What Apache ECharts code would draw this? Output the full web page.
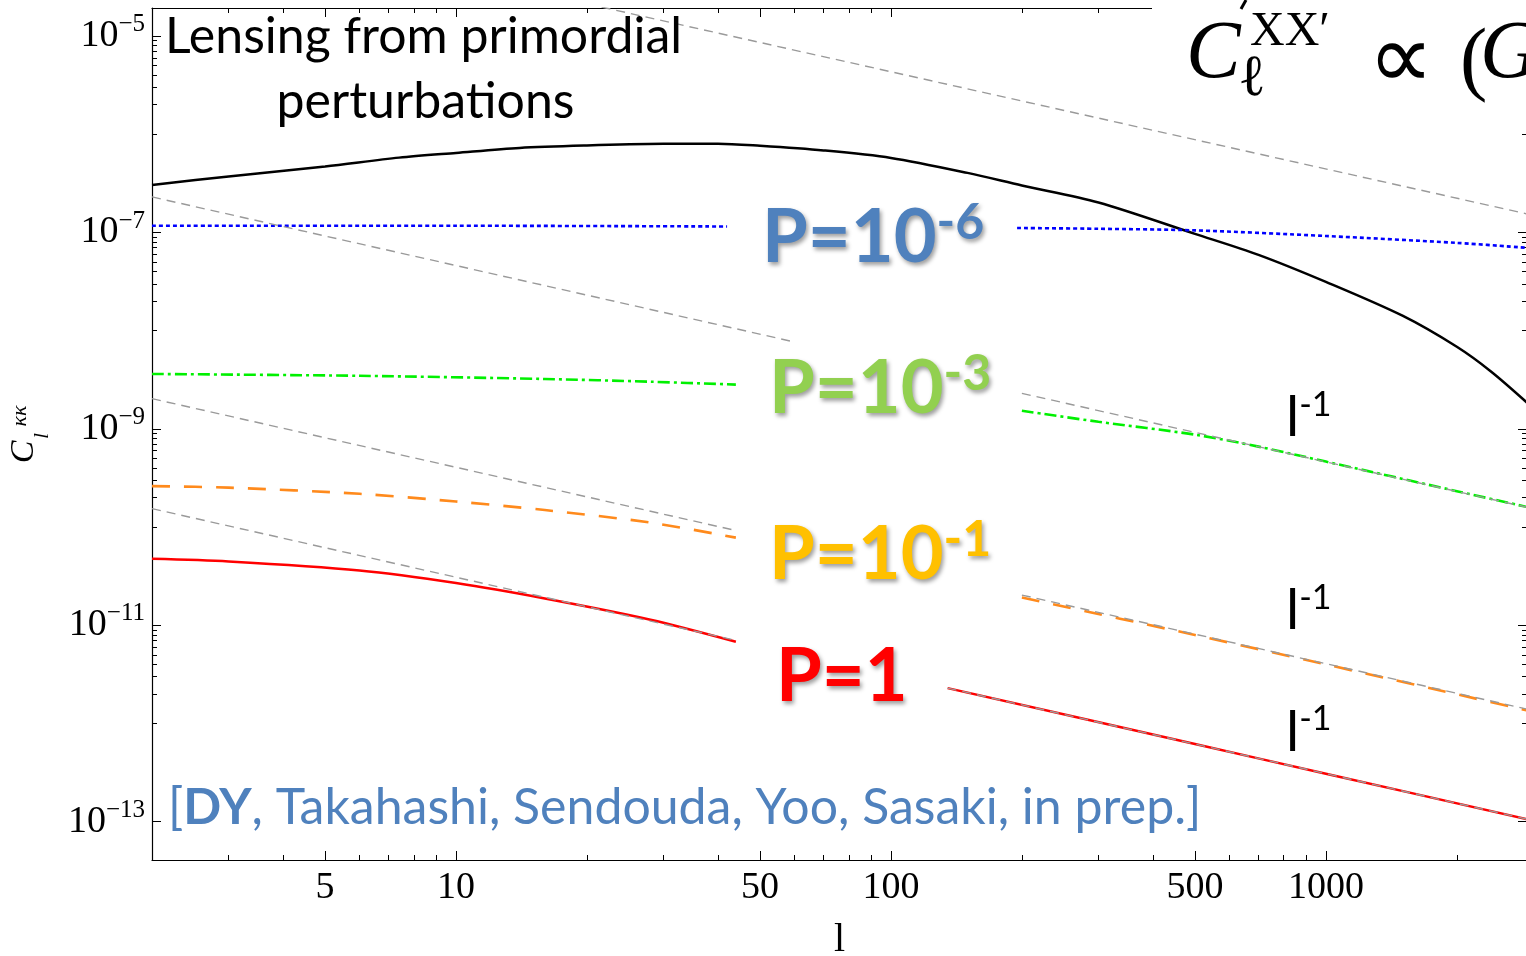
<!DOCTYPE html>
<html><head><meta charset="utf-8">
<script src="https://cdn.jsdelivr.net/npm/echarts@6/dist/echarts.min.js"></script>
<style>html,body{margin:0;padding:0;background:#fff}#c{width:1526px;height:956px}</style>
</head><body><div id="c"></div>
<script>
// ---------------- data (multipole l, C_l^kk) ----------------
const X_MIN = 2, X_MAX = 2900;
const Y_MIN = 4.07e-14, Y_MAX = 1.93e-5;

const xTickLabels = [5, 10, 50, 100, 500, 1000];
const xMinorTicks = [3,4,6,7,8,9,20,30,40,60,70,80,90,200,300,400,600,700,800,900,2000];
const yTickLabels = [1e-5, 1e-7, 1e-9, 1e-11, 1e-13];
const yMinorMult = [0.9,0.8,0.7,0.6,0.5,0.4,0.3,0.2,0.1];
const yMinorDecades = [1e-5, 1e-7, 1e-9, 1e-11];

// primordial lensing (black)
const blackL = [2,3,5,7.4,10,14,20,30,40,50,70,100,150,200,300,500,700,1000,1500,2000,2400,2900];
const blackC = [3.05e-7,3.72e-7,4.70e-7,5.78e-7,6.46e-7,7.26e-7,7.69e-7,7.99e-7,8.02e-7,7.63e-7,6.84e-7,5.74e-7,4.04e-7,3.01e-7,2.02e-7,9.68e-8,5.92e-8,3.14e-8,1.42e-8,6.85e-9,3.82e-9,1.85e-9];
// P = 1e-6 (blue dotted); null = break behind label
const blueL = [2,10,42,null,195,300,500,1000,2000,2900];
const blueC = [1.17e-7,1.17e-7,1.15e-7,null,1.11e-7,1.09e-7,1.05e-7,9.2e-8,7.83e-8,6.97e-8];
// P = 1e-3 (green dash-dot)
const greenL = [2,6,16,28,44,null,200,300,500,700,1000,2000,2900];
const greenC = [3.62e-9,3.47e-9,3.22e-9,3.02e-9,2.82e-9,null,1.53e-9,1.18e-9,8.73e-10,6.59e-10,4.64e-10,2.32e-10,1.60e-10];
// P = 1e-1 (orange dashed)
const orangeL = [2,3,6,10,16,28,44,null,200,500,1000,2900];
const orangeC = [2.61e-10,2.52e-10,2.18e-10,1.82e-10,1.49e-10,1.11e-10,7.8e-11,null,1.92e-11,7.96e-12,3.99e-12,1.36e-12];
// P = 1 (red)
const redL = [2,3,6,10,16,28,44,null,135,500,1000,2900];
const redC = [4.75e-11,4.46e-11,3.61e-11,2.69e-11,1.875e-11,1.14e-11,6.8e-12,null,2.29e-12,6.17e-13,3.08e-13,1.06e-13];
// l^-1 guide lines (gray dashed)
const g1L = [20,2900],             g1C = [2.13e-5,1.545e-7];
const g2L = [2,60,null,200,2900],  g2C = [2.30e-7,7.67e-9,null,2.30e-9,1.59e-10];
const g3L = [2,44,null,200,2900],  g3C = [2.03e-9,9.22e-11,null,2.03e-11,1.40e-12];
const g4L = [2,44,null,135,2900],  g4C = [1.54e-10,7.01e-12,null,2.29e-12,1.06e-13];

// ---------------- chart ----------------
const LX = v => Math.log10(v);
function pts(L, C){ return L.map((l,i) => l === null ? ['-','-'] : [LX(l), LX(C[i])]); }
function line(L, C, color, width, type, smooth, z){
  return {type:'line', data:pts(L,C), xAxisIndex:0, yAxisIndex:0, symbol:'none', showSymbol:false,
    smooth:smooth, connectNulls:false, silent:true, animation:false, z:z,
    lineStyle:{color:color, width:width, type:type}};
}
const serif = 'Liberation Serif, Times New Roman, serif';
const xMaj = xTickLabels.map(LX), xMin = xMinorTicks.map(LX);
const yMaj = yTickLabels.map(LX);
const yMin = [];
yMinorDecades.forEach(d => yMinorMult.forEach(k => yMin.push(LX(d*k))));

function xAx(pos, ticks, len, showLine, showLabel){
  return {type:'value', position:pos, min:LX(X_MIN), max:LX(X_MAX), gridIndex:0,
    axisLine:{show:showLine, onZero:false, lineStyle:{color:'#000', width:1.2}},
    axisTick:{show:true, inside:true, length:len, customValues:ticks, lineStyle:{color:'#000', width:1}},
    axisLabel: showLabel ? {show:true, customValues:ticks, margin:8, color:'#000', fontFamily:serif, fontSize:38, lineHeight:40,
      formatter: v => String(Math.round(Math.pow(10, v)))} : {show:false},
    splitLine:{show:false}, minorTick:{show:false}, minorSplitLine:{show:false},
    name: (pos==='bottom' && showLabel) ? 'l' : '', nameLocation:'middle', nameGap:60,
    nameTextStyle:{fontFamily:serif, fontSize:40, lineHeight:40, color:'#000'}};
}
function yAx(pos, ticks, len, showLine, showLabel){
  return {type:'value', position:pos, min:LX(Y_MIN), max:LX(Y_MAX), gridIndex:0,
    axisLine:{show:showLine, onZero:false, lineStyle:{color:'#000', width:1.2}},
    axisTick:{show:true, inside:true, length:len, customValues:ticks, lineStyle:{color:'#000', width:1}},
    axisLabel: showLabel ? {show:true, customValues:ticks, margin:7, color:'#000',
      formatter: v => '{b|10}{s|\u2212' + Math.round(-v) + '}',
      rich:{b:{fontFamily:serif, fontSize:38, lineHeight:48, color:'#000'},
            s:{fontFamily:serif, fontSize:25, lineHeight:24, verticalAlign:'top', color:'#000'}}} : {show:false},
    splitLine:{show:false}, minorTick:{show:false}, minorSplitLine:{show:false}};
}

const lato = 'Lato, Open Sans, sans-serif';
const shadow = {textShadowColor:'rgba(0,0,0,0.38)', textShadowBlur:4, textShadowOffsetX:2, textShadowOffsetY:3};
function pLabel(x, y, rich, color){
  return {type:'text', x:x, y:y, z:100, silent:true, style:Object.assign({text:rich, fill:color, align:'left', verticalAlign:'middle',
    rich:{b:{fontFamily:lato, fontWeight:'bold', fontSize:74, lineHeight:82},
          s:{fontFamily:lato, fontWeight:'bold', fontSize:50, lineHeight:50, verticalAlign:'top'}}}, shadow)};
}
function lInv(y){
  return {type:'text', x:1286, y:y, z:100, silent:true, style:{text:'{l|l}{s|-1}', fill:'#000', align:'left', verticalAlign:'middle',
    rich:{l:{fontFamily:lato, fontSize:56, lineHeight:60}, s:{fontFamily:lato, fontSize:34, lineHeight:40, verticalAlign:'top'}}}};
}
function ftxt(x, y, t, size, italic, fam){
  return {type:'text', x:x, y:y, z:101, silent:true, style:{text:t, fill:'#000', align:'left', verticalAlign:'middle',
    fontFamily: fam || serif, fontSize:size, fontStyle: italic ? 'italic' : 'normal'}};
}

const chart = echarts.init(document.getElementById('c'), null, {renderer:'canvas', width:1526, height:956});
chart.setOption({
  animation:false,
  backgroundColor:'#fff',
  grid:{left:152, top:8, width:1375, height:852, containLabel:false, outerBoundsMode:'none'},
  xAxis:[ xAx('bottom', xMaj, 9, true, true), xAx('bottom', xMin, 5, false, false),
          xAx('top', xMaj, 9, true, false), xAx('top', xMin, 5, false, false) ],
  yAxis:[ yAx('left', yMaj, 9, true, true), yAx('left', yMin, 5, false, false),
          yAx('right', yMaj, 9, true, false), yAx('right', yMin, 5, false, false) ],
  series:[
    line(blackL, blackC, '#000000', 2.5, 'solid', 0.3, 3),
    line(blueL, blueC, '#0000FF', 2.6, [4,3], 0.3, 3),
    line(greenL, greenC, '#00F000', 2.6, [12,4,3,4], 0.3, 3),
    line(orangeL, orangeC, '#FF8A1C', 2.6, [18,14], 0.3, 3),
    line(redL, redC, '#FF0000', 2.5, 'solid', 0.3, 3),
    line(g1L, g1C, '#9a9a9a', 1.4, [9,6], false, 4),
    line(g2L, g2C, '#9a9a9a', 1.4, [9,6], false, 4),
    line(g3L, g3C, '#9a9a9a', 1.4, [9,6], false, 4),
    line(g4L, g4C, '#9a9a9a', 1.4, [9,6], false, 4)
  ],
  graphic:{elements:[
    {type:'text', x:165, y:36.5, z:100, silent:true, style:{text:'Lensing from primordial', fill:'#000', fontFamily:lato, fontSize:50, align:'left', verticalAlign:'middle'}},
    {type:'text', x:425.5, y:101.5, z:100, silent:true, style:{text:'perturbations', fill:'#000', fontFamily:lato, fontSize:50, align:'center', verticalAlign:'middle'}},
    pLabel(762, 238.5, '{b|P=10}{s|-6}', '#4F81BD'),
    pLabel(769, 389.5, '{b|P=10}{s|-3}', '#92D050'),
    pLabel(769, 555.5, '{b|P=10}{s|-1}', '#FFC000'),
    pLabel(776, 677.5, '{b|P=1}', '#FF0000'),
    lInv(418), lInv(611), lInv(732.5),
    {type:'text', x:168, y:808, z:100, silent:true, style:{text:'{n|[}{b|DY}{n|, Takahashi, Sendouda, Yoo, Sasaki, in prep.]}', fill:'#4F81BD', align:'left', verticalAlign:'middle',
      rich:{n:{fontFamily:lato, fontSize:50, fill:'#4F81BD'}, b:{fontFamily:lato, fontSize:50, fontWeight:'bold', fill:'#4F81BD'}}}},
    // formula box at top right
    {type:'rect', z:90, silent:true, shape:{x:1152, y:0, width:380, height:110}, style:{fill:'#fff'}},
    {type:'line', z:101, silent:true, shape:{x1:1246, y1:0, x2:1241, y2:9}, style:{stroke:'#000', lineWidth:3}},
    ftxt(1186, 55.5, 'C', 82, true),
    ftxt(1250, 32.5, 'XX\u2032', 48, false),
    ftxt(1238, 80, '\u2113', 58, false, 'DejaVu Serif, serif'),
    ftxt(1368, 64, '\u221D', 92, false, 'DejaVu Sans, DejaVu Serif, serif'),
    ftxt(1460, 63, '(', 82, false),
    ftxt(1480, 55.5, 'G', 82, true),
    // y axis name C_l^{kk}, rotated
    {type:'group', x:24, y:452, rotation:Math.PI/2, z:100, silent:true, children:[
      {type:'text', x:0, y:0, z:100, style:{text:'C', fill:'#000', fontFamily:serif, fontStyle:'italic', fontSize:34, align:'center', verticalAlign:'middle'}},
      {type:'text', x:16, y:18, z:100, style:{text:'l', fill:'#000', fontFamily:serif, fontStyle:'italic', fontSize:22, align:'center', verticalAlign:'middle'}},
      {type:'text', x:36, y:-4, z:100, style:{text:'\u03BA\u03BA', fill:'#000', fontFamily:serif, fontStyle:'italic', fontSize:22, align:'center', verticalAlign:'middle'}}
    ]}
  ]}
});
</script></body></html>
